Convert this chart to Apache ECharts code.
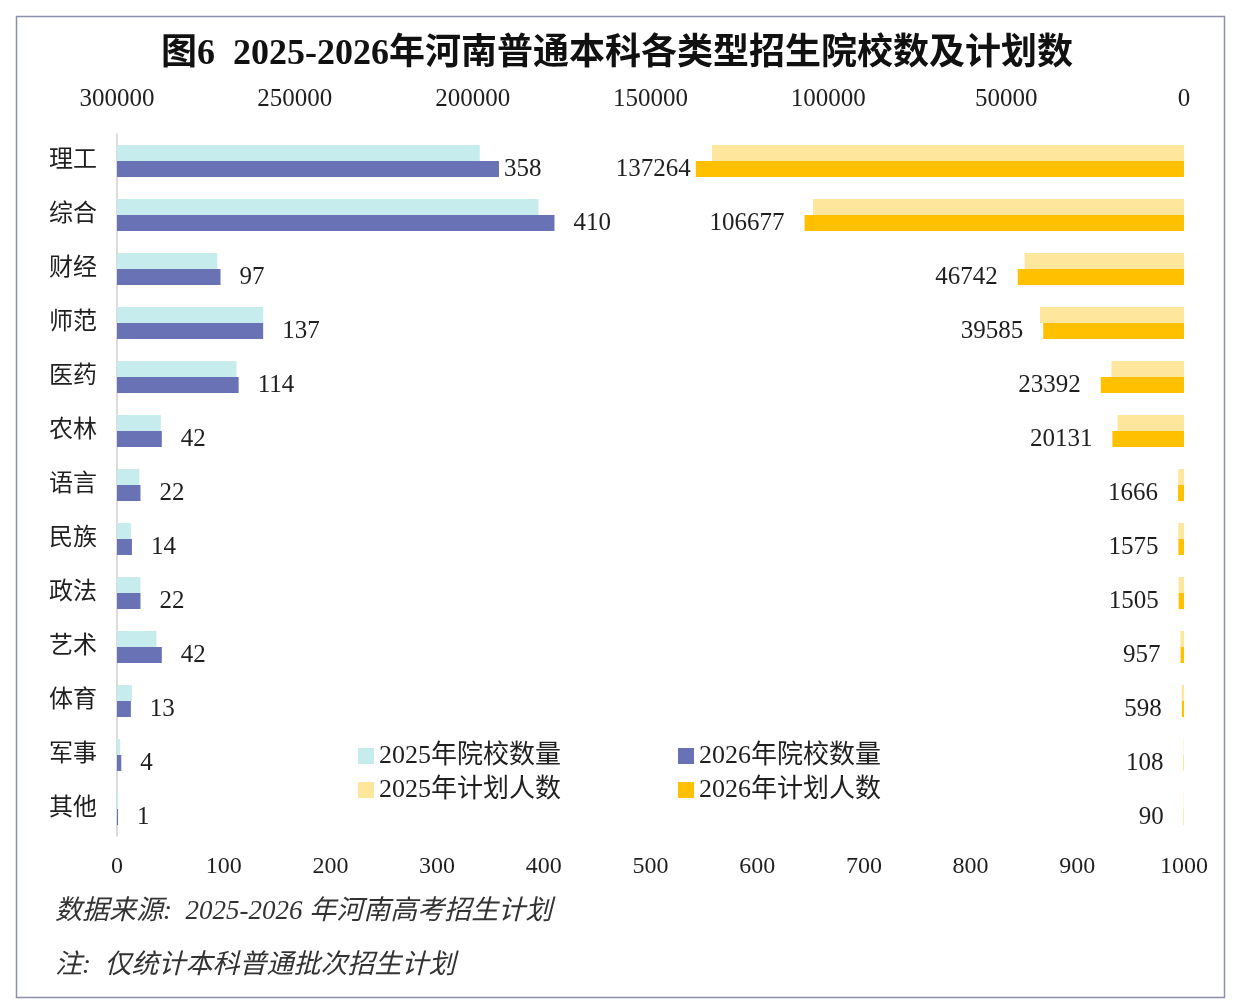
<!DOCTYPE html>
<html>
<head>
<meta charset="utf-8">
<script src="https://cdn.jsdelivr.net/npm/echarts@6/dist/echarts.min.js"></script>
<style>
html,body{margin:0;padding:0;background:#fff;}
#c{width:1234px;height:1004px;}
</style>
</head>
<body>
<div id="c"></div>
<script>
const categories = ['理工','综合','财经','师范','医药','农林','语言','民族','政法','艺术','体育','军事','其他'];
const schools2025 = [340, 395, 94, 137, 112, 41, 21, 13, 22, 37, 14, 3, 1];
const schools2026 = [358, 410, 97, 137, 114, 42, 22, 14, 22, 42, 13, 4, 1];
const plans2025 = [132700, 104300, 44800, 40500, 20400, 18700, 1650, 1600, 1520, 1000, 650, 100, 90];
const plans2026 = [137264, 106677, 46742, 39585, 23392, 20131, 1666, 1575, 1505, 957, 598, 108, 90];
const schoolTicks = [0, 1000, 100];
const planTicks = [0, 300000, 50000];

const FONT = '"Liberation Serif", "Noto Sans CJK SC", serif';
const TXT = '#1f1f1f';

function withLabel(arr) {
  return arr.map((v, i) => i === 0
    ? { value: v, label: { distance: 5 } }
    : v);
}

const chart = echarts.init(document.getElementById('c'));
chart.setOption({
  backgroundColor: '#ffffff',
  animation: false,
  title: {
    text: '图6  2025-2026年河南普通本科各类型招生院校数及计划数',
    left: 'center', top: 32,
    textStyle: { fontFamily: FONT, fontSize: 36, fontWeight: 'bold', color: '#111' }
  },
  legend: [
    { data: ['2025年院校数量'], left: 353, top: 738 },
    { data: ['2026年院校数量'], left: 673, top: 738 },
    { data: ['2025年计划人数'], left: 353, top: 772 },
    { data: ['2026年计划人数'], left: 673, top: 772 }
  ].map(l => Object.assign(l, {
    icon: 'rect', itemWidth: 16, itemHeight: 16, itemGap: 10,
    textStyle: { fontFamily: FONT, fontSize: 26, color: TXT }
  })),
  grid: { left: 117, right: 50, top: 134, height: 702, containLabel: false },
  xAxis: [
    {
      type: 'value', position: 'bottom', min: schoolTicks[0], max: schoolTicks[1], interval: schoolTicks[2],
      splitLine: { show: false }, axisLine: { show: false }, axisTick: { show: false },
      axisLabel: { fontFamily: FONT, fontSize: 24, color: TXT, margin: 19, formatter: v => String(v) }
    },
    {
      type: 'value', position: 'top', inverse: true, min: planTicks[0], max: planTicks[1], interval: planTicks[2],
      splitLine: { show: false }, axisLine: { show: false }, axisTick: { show: false },
      axisLabel: { fontFamily: FONT, fontSize: 25, color: TXT, margin: 22, formatter: v => String(v) }
    }
  ],
  yAxis: [
    {
      type: 'category', data: categories, inverse: true, position: 'left',
      axisLine: { show: true, lineStyle: { color: '#d0d0d0', width: 1.5 } },
      axisTick: { show: false },
      axisLabel: { fontFamily: FONT, fontSize: 24, color: TXT, margin: 20 }
    },
    {
      type: 'category', data: categories, inverse: true, position: 'right', show: false
    }
  ],
  series: [
    {
      name: '2025年院校数量', type: 'bar', xAxisIndex: 0, yAxisIndex: 0,
      data: schools2025, barWidth: 16, barGap: '0%',
      itemStyle: { color: '#c6ecee' }
    },
    {
      name: '2026年院校数量', type: 'bar', xAxisIndex: 0, yAxisIndex: 0,
      data: withLabel(schools2026), barWidth: 16, barGap: '0%',
      itemStyle: { color: '#6872b4' },
      label: { show: true, position: 'right', distance: 19, fontFamily: FONT, fontSize: 25, color: TXT }
    },
    {
      name: '2025年计划人数', type: 'bar', xAxisIndex: 1, yAxisIndex: 1,
      data: plans2025, barWidth: 16, barGap: '0%',
      itemStyle: { color: '#fee79c' }
    },
    {
      name: '2026年计划人数', type: 'bar', xAxisIndex: 1, yAxisIndex: 1,
      data: withLabel(plans2026), barWidth: 16, barGap: '0%',
      itemStyle: { color: '#ffc000' },
      label: { show: true, position: 'left', distance: 20, fontFamily: FONT, fontSize: 25, color: TXT }
    }
  ],
  graphic: [
    { type: 'rect', left: 14, top: 14, shape: { width: 1208, height: 981 },
      style: { fill: 'none', stroke: '#8c90ad', lineWidth: 1.5 }, silent: true },
    { type: 'text', left: 55, top: 898,
      style: { text: '数据来源:  2025-2026 年河南高考招生计划', fontFamily: FONT, fontSize: 27, fontStyle: 'italic', fill: '#333' } },
    { type: 'text', left: 55, top: 952,
      style: { text: '注:  仅统计本科普通批次招生计划', fontFamily: FONT, fontSize: 27, fontStyle: 'italic', fill: '#333' } }
  ]
});
</script>
</body>
</html>
